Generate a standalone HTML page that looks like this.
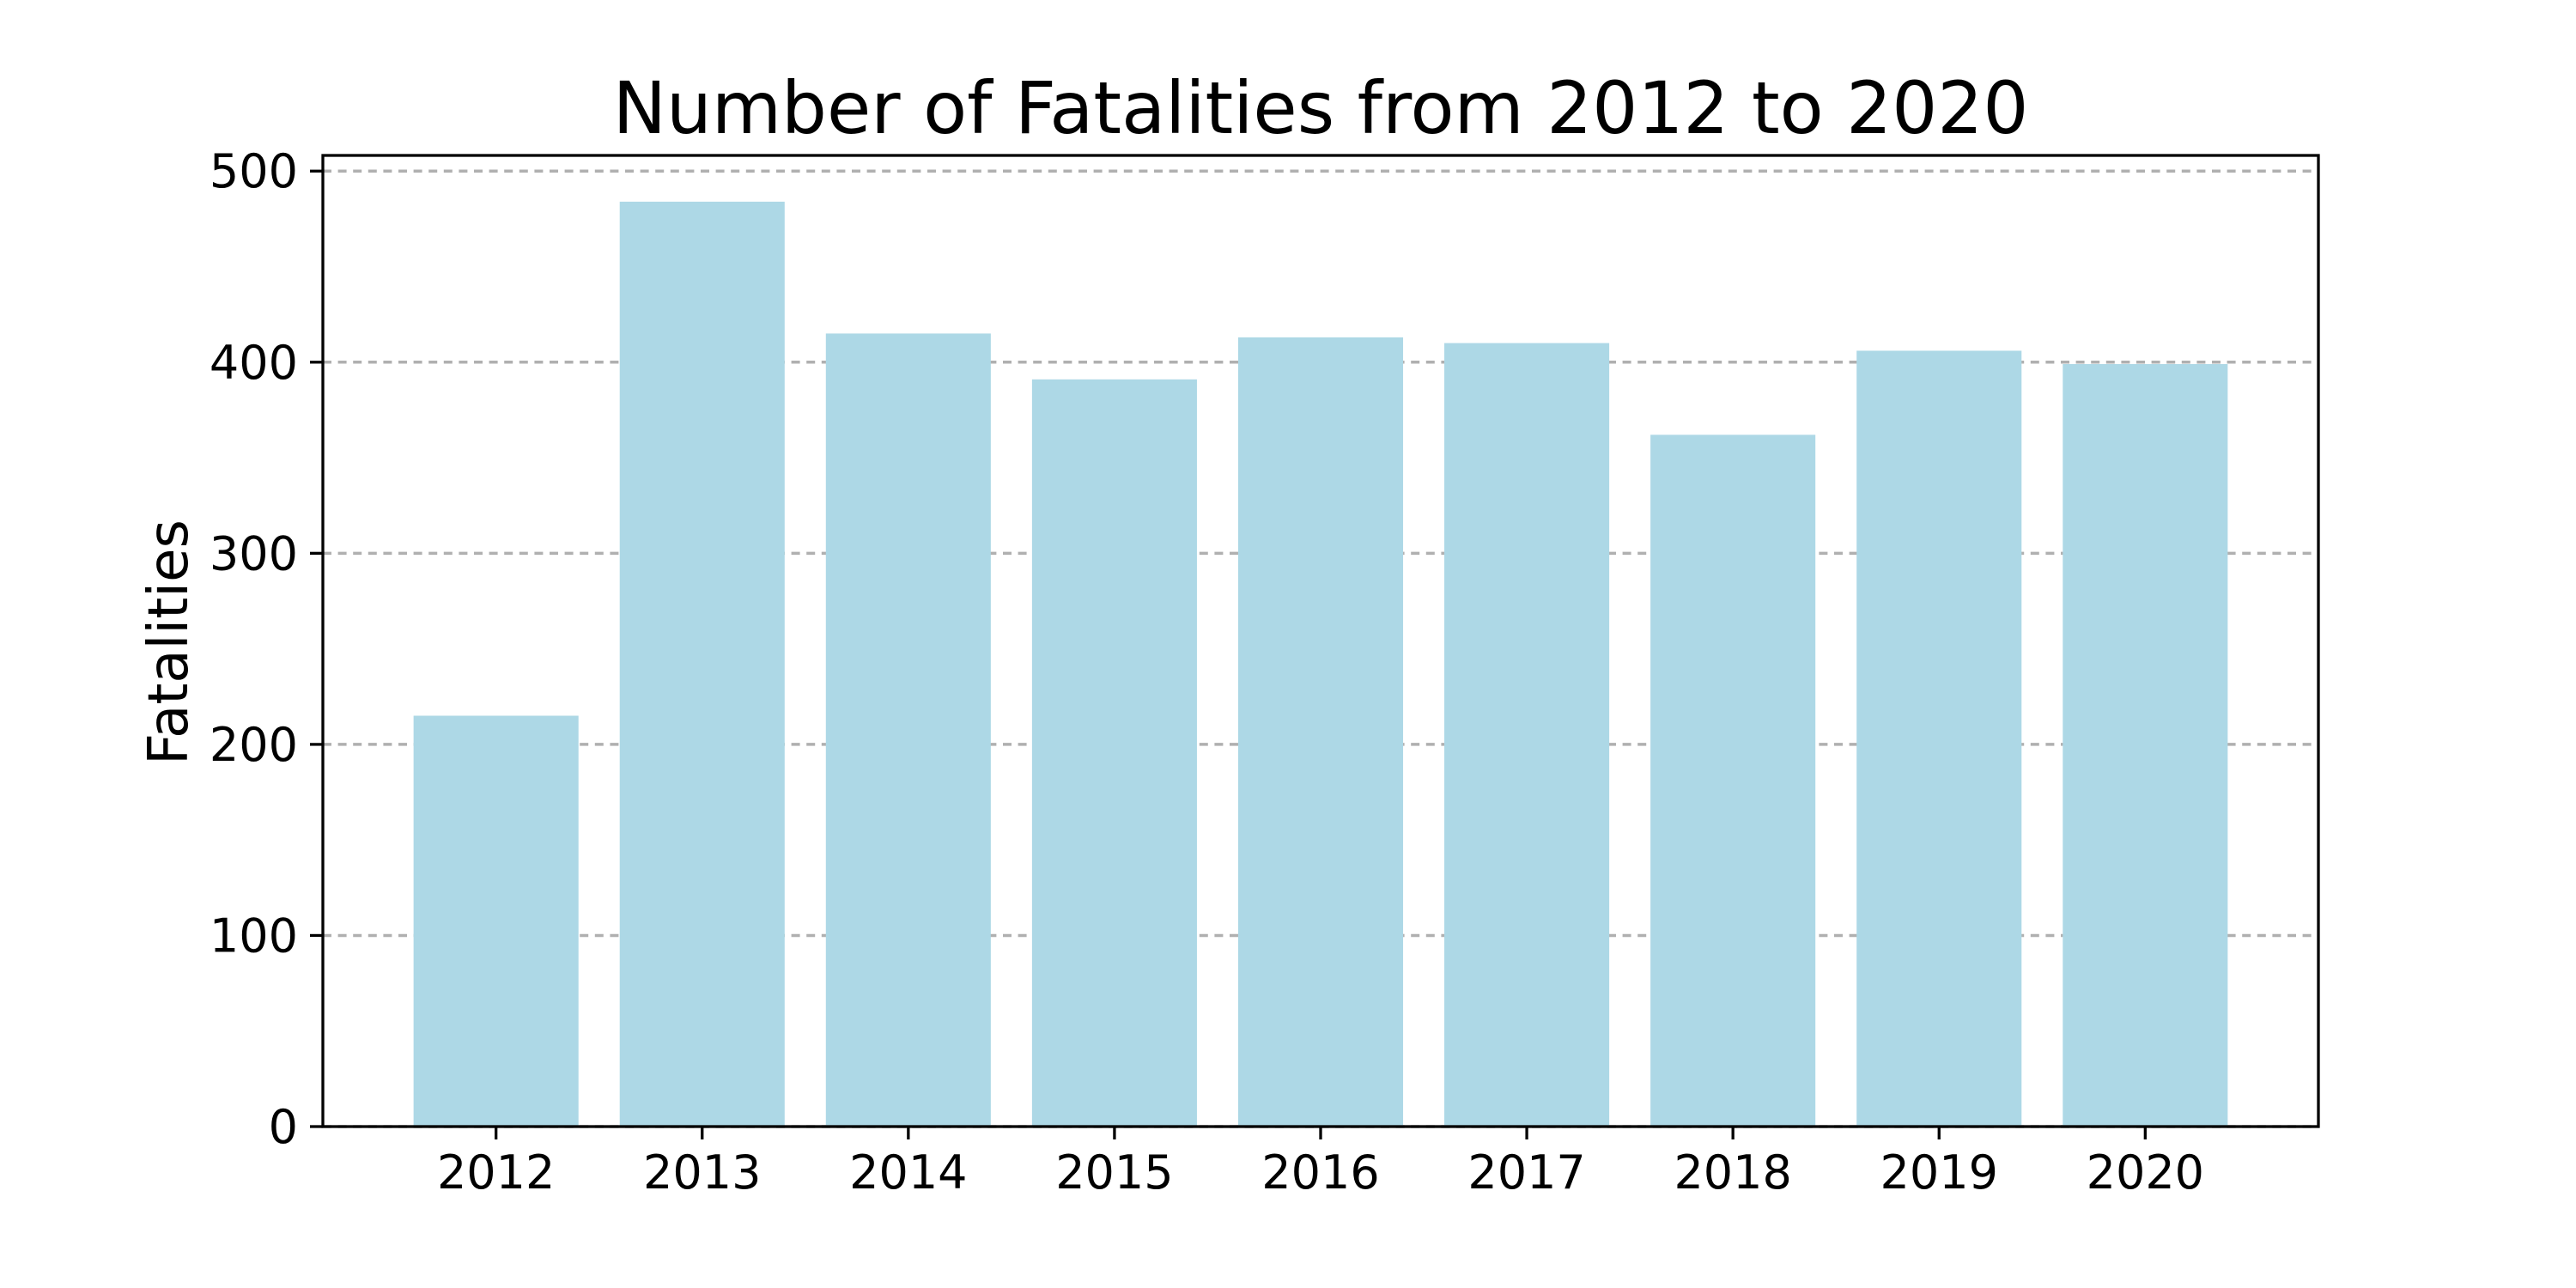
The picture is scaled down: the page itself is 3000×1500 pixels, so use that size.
<!DOCTYPE html>
<html><head><meta charset="utf-8"><style>
html,body{margin:0;padding:0;background:#fff;}
svg{display:block;}
text{font-family:"DejaVu Sans","Liberation Sans",sans-serif;fill:#000;}
</style></head><body>
<svg id="chart" width="3000" height="1500" viewBox="0 0 3000 1500" xmlns="http://www.w3.org/2000/svg">
<rect width="3000" height="1500" fill="#fff"/>
<g id="grid"></g>
<g id="bars"></g>
<g id="axes"></g>
<text x="1538" y="155" font-size="83.4" text-anchor="middle">Number of Fatalities from 2012 to 2020</text>
<text transform="translate(218,748) rotate(-90)" font-size="64" text-anchor="middle">Fatalities</text>
</svg>
<script>
const categories = ["2012","2013","2014","2015","2016","2017","2018","2019","2020"];
const fatalities = [215, 484, 415, 391, 413, 410, 362, 406, 399];
const yTicks = [0, 100, 200, 300, 400, 500];

const NS = "http://www.w3.org/2000/svg";
const L = 376, R = 2700, T = 181, B = 1312;
const yMax = 508.2, xMin = -0.84, xMax = categories.length - 1 + 0.84;
function xScale(i){ return L + (i - xMin) / (xMax - xMin) * (R - L); }
function yScale(v){ return B - v / yMax * (B - T); }
const bandW = (R - L) / (xMax - xMin);
function mk(tag, attrs, parent){ const e = document.createElementNS(NS, tag); for (const k in attrs) e.setAttribute(k, attrs[k]); parent.appendChild(e); return e; }

const grid = document.getElementById('grid');
const bars = document.getElementById('bars');
const axes = document.getElementById('axes');

yTicks.forEach(v => {
  const y = yScale(v);
  const g = mk('line', {x1:L, x2:R, y1:y, y2:y, stroke:'#b0b0b0', 'stroke-width':3.5, 'stroke-dasharray':'10 7.6'}, grid);
  
  
  const t = mk('line', {x1:L-15, x2:L, y1:y, y2:y, stroke:'#000', 'stroke-width':3.3}, axes);
  
  
  const lb = mk('text', {x:L-29, y:y+19, 'font-size':54, 'text-anchor':'end'}, axes);
  lb.textContent = v;
  
  
});

categories.forEach((c, i) => {
  const cx = xScale(i), w = bandW * 0.8;
  const r = mk('rect', {x:cx - w/2, y:yScale(fatalities[i]), width:w, height:B - yScale(fatalities[i]), fill:'#add8e6'}, bars);
  
  
  const t = mk('line', {x1:cx, x2:cx, y1:B, y2:B+15, stroke:'#000', 'stroke-width':3.3}, axes);
  
  
  const lb = mk('text', {x:cx, y:1384, 'font-size':54, 'text-anchor':'middle'}, axes);
  lb.textContent = c;
  
  
});

const frame = mk('rect', {x:L, y:T, width:R-L, height:B-T, fill:'none', stroke:'#000', 'stroke-width':3.3}, axes);


</script>
</body></html>
